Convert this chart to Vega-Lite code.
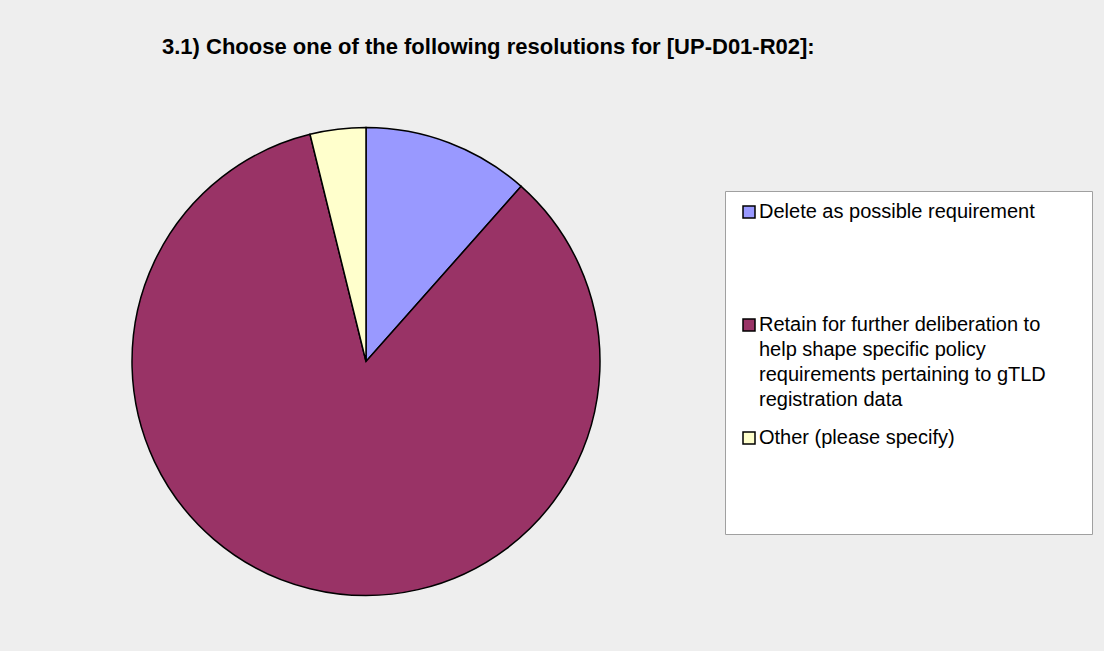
{
  "$schema": "https://vega.github.io/schema/vega-lite/v6.json",
  "width": 468,
  "height": 468,
  "autosize": {"type": "none"},
  "padding": {"left": 132, "top": 127.5, "right": 504, "bottom": 55.5},
  "background": "#EEEEEE",
  "title": {
    "text": "3.1) Choose one of the following resolutions for [UP-D01-R02]:",
    "anchor": "start",
    "frame": "group",
    "dx": 30,
    "offset": 66,
    "font": "Liberation Sans",
    "fontSize": 22,
    "fontWeight": "bold",
    "color": "#000000"
  },
  "data": {
    "values": [
      {"response": "Delete as possible requirement", "count": 3, "choice": 1},
      {"response": "Retain for further deliberation to help shape specific policy requirements pertaining to gTLD registration data", "count": 22, "choice": 2},
      {"response": "Other (please specify)", "count": 1, "choice": 3}
    ]
  },
  "mark": {"type": "arc", "stroke": "#000000", "strokeWidth": 1.5},
  "encoding": {
    "theta": {"field": "count", "type": "quantitative", "stack": true},
    "order": {"field": "choice", "type": "quantitative", "sort": "ascending"},
    "color": {
      "field": "response",
      "type": "nominal",
      "sort": null,
      "scale": {
        "domain": [
          "Delete as possible requirement",
          "Retain for further deliberation to help shape specific policy requirements pertaining to gTLD registration data",
          "Other (please specify)"
        ],
        "range": ["#9999FF", "#993366", "#FFFFCC"]
      },
      "legend": {
        "orient": "none",
        "legendX": 593,
        "legendY": 63.5,
        "direction": "vertical",
        "fillColor": "#FFFFFF",
        "strokeColor": "#A0A0A0",
        "padding": 11,
        "title": "\u00a0",
        "titleOrient": "right",
        "titleFontSize": 1,
        "titlePadding": 35,
        "symbolType": "square",
        "symbolSize": 144,
        "symbolStrokeColor": "#000000",
        "symbolStrokeWidth": 1.5,
        "symbolOpacity": 1,
        "symbolOffset": 3,
        "labelOffset": 0,
        "labelFont": "Liberation Sans",
        "labelFontSize": 20,
        "labelColor": "#000000",
        "labelLimit": 500,
        "labelBaseline": "middle",
        "rowPadding": 18,
        "labelExpr": "indexof(datum.label, 'Retain') == 0 ? ['Retain for further deliberation to', 'help shape specific policy', 'requirements pertaining to gTLD', 'registration data'] : [datum.label, '', '', '']"
      }
    }
  },
  "config": {
    "view": {"stroke": null},
    "style": {"guide-label": {"lineHeight": 25}}
  }
}
